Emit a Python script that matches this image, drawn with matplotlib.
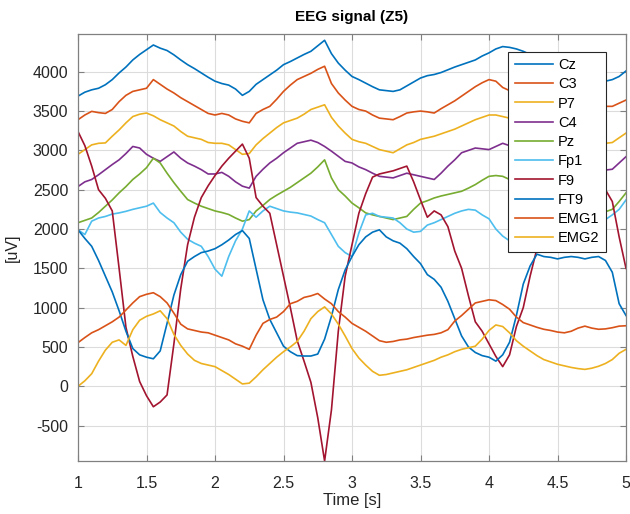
import numpy as np
import matplotlib
matplotlib.use("Agg")
import matplotlib.pyplot as plt

plt.rcParams['font.family'] = ['Liberation Sans', 'DejaVu Sans']
plt.rcParams['axes.unicode_minus'] = False

# time axis (s)
t_start, t_step, n_pts = 1.0, 0.05, 81

channels = ['Cz', 'C3', 'P7', 'C4', 'Pz', 'Fp1', 'F9', 'FT9', 'EMG1', 'EMG2']

cz = [3690, 3740, 3770, 3790, 3835, 3900, 3985, 4060, 4150, 4220, 4280, 4340, 4300, 4270, 4215, 4150, 4090, 4040, 3985, 3930,
      3880, 3850, 3830, 3780, 3700, 3750, 3840, 3900, 3960, 4020, 4090, 4130, 4175, 4220, 4260, 4330, 4400, 4230, 4110, 4020,
      3940, 3900, 3855, 3810, 3770, 3760, 3750, 3770, 3820, 3870, 3920, 3950, 3965, 3990, 4025, 4060, 4090, 4120, 4150, 4200,
      4240, 4290, 4320, 4310, 4290, 4260, 4220, 4170, 4120, 4070, 4020, 3980, 3950, 3920, 3900, 3890, 3880, 3880, 3900, 3940, 4010]
c3 = [3390, 3450, 3496, 3480, 3470, 3520, 3620, 3700, 3750, 3770, 3790, 3900, 3840, 3780, 3730, 3670, 3620, 3570, 3520, 3470,
      3450, 3470, 3450, 3400, 3370, 3350, 3470, 3520, 3560, 3650, 3750, 3830, 3900, 3940, 3980, 4030, 4070, 3850, 3730, 3640,
      3560, 3520, 3500, 3450, 3410, 3400, 3390, 3430, 3475, 3490, 3500, 3490, 3475, 3530, 3580, 3630, 3690, 3750, 3810, 3860,
      3900, 3880, 3800, 3760, 3720, 3680, 3650, 3620, 3600, 3580, 3570, 3560, 3555, 3550, 3550, 3555, 3560, 3560, 3560, 3600, 3640]
p7 = [2950, 3010, 3070, 3090, 3095, 3180, 3260, 3350, 3430, 3460, 3475, 3440, 3390, 3350, 3310, 3240, 3180, 3160, 3140, 3100,
      3090, 3090, 3070, 3010, 2950, 2960, 3070, 3150, 3220, 3290, 3350, 3380, 3410, 3460, 3520, 3550, 3580, 3420, 3310, 3220,
      3140, 3110, 3090, 3050, 3010, 2990, 2970, 3020, 3070, 3100, 3140, 3160, 3180, 3210, 3240, 3270, 3310, 3350, 3390, 3420,
      3450, 3450, 3430, 3410, 3390, 3360, 3330, 3300, 3270, 3240, 3210, 3180, 3150, 3120, 3100, 3090, 3090, 3090, 3100, 3160, 3220]
c4 = [2540, 2600, 2630, 2690, 2755, 2820, 2880, 2960, 3050, 3030, 2950, 2900, 2860, 2920, 2980, 2900, 2840, 2800, 2755, 2700,
      2700, 2720, 2670, 2600, 2545, 2520, 2670, 2760, 2840, 2900, 2970, 3030, 3090, 3110, 3130, 3100, 3050, 2990, 2925, 2860,
      2840, 2790, 2755, 2710, 2670, 2660, 2650, 2680, 2710, 2690, 2670, 2650, 2630, 2710, 2800, 2880, 2970, 3000, 3030, 3020,
      3010, 3050, 3090, 3060, 3020, 2980, 2940, 2900, 2870, 2840, 2810, 2790, 2770, 2760, 2750, 2750, 2750, 2750, 2760, 2840, 2920]
pz = [2080, 2110, 2140, 2210, 2290, 2370, 2460, 2540, 2630, 2700, 2780, 2900, 2840, 2710, 2590, 2480, 2375, 2330, 2290, 2260,
      2230, 2210, 2185, 2140, 2100, 2120, 2230, 2300, 2375, 2430, 2480, 2530, 2590, 2650, 2710, 2790, 2880, 2650, 2500, 2420,
      2330, 2270, 2205, 2180, 2160, 2140, 2120, 2140, 2160, 2250, 2330, 2360, 2395, 2420, 2440, 2460, 2480, 2520, 2565, 2620,
      2670, 2680, 2670, 2630, 2590, 2550, 2510, 2470, 2430, 2390, 2350, 2320, 2290, 2260, 2240, 2230, 2220, 2220, 2250, 2350, 2460]
fp1 = [1990, 1930, 2100, 2140, 2160, 2190, 2205, 2225, 2250, 2270, 2290, 2330, 2210, 2140, 2080, 1960, 1870, 1820, 1780, 1650,
       1490, 1400, 1650, 1850, 2000, 2230, 2150, 2230, 2290, 2260, 2230, 2215, 2205, 2185, 2165, 2120, 2080, 1930, 1780, 1700,
       1650, 1950, 2180, 2200, 2160, 2150, 2140, 2080, 2000, 1960, 1970, 2050, 2080, 2120, 2160, 2200, 2230, 2250, 2240, 2180,
       2130, 2000, 1910, 1850, 1820, 1800, 1790, 1790, 1800, 1820, 1840, 1870, 1900, 1940, 1980, 2020, 2070, 2120, 2180, 2250, 2370]
f9 = [3240, 3060, 2800, 2500, 2390, 2230, 1500, 750, 380, 60, -120, -260, -200, -110, 540, 1240, 1800, 2150, 2400, 2550,
      2680, 2800, 2900, 2990, 3080, 2900, 2400, 2290, 2200, 1800, 1400, 1000, 580, 320, 50, -400, -950, -300, 700, 1400,
      1800, 2200, 2450, 2660, 2700, 2720, 2740, 2770, 2800, 2600, 2370, 2150, 2230, 2180, 2030, 1720, 1500, 1150, 820, 700,
      540, 380, 250, 400, 760, 1000, 1400, 1750, 2050, 2300, 2450, 2550, 2600, 2620, 2620, 2600, 2560, 2500, 2350, 1900, 1500]
ft9 = [1990, 1880, 1780, 1600, 1400, 1200, 960, 700, 480, 400, 370, 350, 450, 800, 1160, 1420, 1590, 1650, 1700, 1720,
       1750, 1800, 1860, 1930, 1980, 1880, 1490, 1100, 850, 680, 510, 440, 390, 385, 385, 410, 600, 890, 1230, 1480,
       1650, 1800, 1900, 1960, 1990, 1900, 1850, 1820, 1750, 1650, 1560, 1420, 1360, 1260, 1080, 860, 640, 500, 430, 390,
       370, 320, 400, 560, 900, 1300, 1530, 1680, 1650, 1640, 1620, 1640, 1650, 1640, 1620, 1640, 1650, 1600, 1450, 1050, 900]
emg1 = [555, 620, 680, 720, 770, 820, 880, 970, 1060, 1140, 1170, 1190, 1140, 1060, 930, 790, 730, 710, 690, 680,
        650, 620, 590, 540, 510, 470, 650, 800, 850, 880, 950, 1050, 1080, 1130, 1150, 1180, 1110, 1050, 950, 880,
        800, 750, 700, 640, 580, 560, 570, 590, 600, 620, 635, 650, 660, 680, 720, 830, 900, 980, 1060, 1080,
        1100, 1090, 1040, 980, 880, 810, 780, 750, 725, 710, 690, 680, 700, 740, 765, 740, 725, 730, 745, 765, 770]
emg2 = [0, 70, 160, 320, 460, 560, 590, 520, 720, 840, 890, 920, 960, 860, 660, 520, 410, 330, 290, 270,
        250, 200, 150, 90, 30, 40, 120, 210, 290, 370, 440, 500, 570, 700, 860, 950, 1010, 920, 790, 640,
        480, 360, 270, 190, 140, 150, 170, 190, 210, 240, 270, 300, 330, 370, 400, 440, 470, 490, 510, 600,
        710, 780, 760, 680, 580, 510, 450, 390, 340, 310, 280, 260, 240, 225, 215, 230, 255, 290, 340, 420, 470]

series = [cz, c3, p7, c4, pz, fp1, f9, ft9, emg1, emg2]
colors = ['#0072BD', '#D95319', '#EDB120', '#7E2F8E', '#77AC30',
          '#4DBEEE', '#A2142F', '#0072BD', '#D95319', '#EDB120']

xticks = [1, 1.5, 2, 2.5, 3, 3.5, 4, 4.5, 5]
xticklabels = ['1', '1.5', '2', '2.5', '3', '3.5', '4', '4.5', '5']
yticks = [-500, 0, 500, 1000, 1500, 2000, 2500, 3000, 3500, 4000]

t = t_start + t_step * np.arange(n_pts)

fig = plt.figure(figsize=(6.30, 5.14), dpi=100)
ax = fig.add_axes([78/630, 1 - 461/514, 548/630, 427/514])

for name, vals, c in zip(channels, series, colors):
    ax.plot(t, vals, color=c, lw=1.2, label=name)

ax.set_xlim(1, 5)
ax.set_ylim(-950, 4480)
ax.set_xticks(xticks)
ax.set_xticklabels(xticklabels)
ax.set_yticks(yticks)

axcol = '#262626'
ax.grid(True, color='#dcdcdc', lw=0.8)
ax.set_axisbelow(True)
for s in ax.spines.values():
    s.set_color('#808080')
    s.set_linewidth(0.9)
ax.tick_params(direction='in', length=4, colors='#808080', labelcolor=axcol,
               labelsize=11.5, top=True, right=True)
ax.tick_params(axis='x', pad=11)
ax.tick_params(axis='y', pad=7)

ax.set_title('EEG signal (Z5)', fontsize=11, fontweight='bold', color='black', pad=9)
ax.set_xlabel('Time [s]', fontsize=12, color=axcol, labelpad=1)
ax.set_ylabel('[uV]', fontsize=11.5, color=axcol, labelpad=9)

leg = ax.legend(loc='upper right', bbox_to_anchor=(0.9635, 0.959), borderaxespad=0,
                fontsize=10.5, frameon=True, fancybox=False, handlelength=2.6,
                labelspacing=0.36, borderpad=0.45, handletextpad=0.35)
leg.get_frame().set_edgecolor('#262626')
leg.get_frame().set_linewidth(0.8)
leg.get_frame().set_alpha(1)

fig.savefig('out.png', dpi=100)
